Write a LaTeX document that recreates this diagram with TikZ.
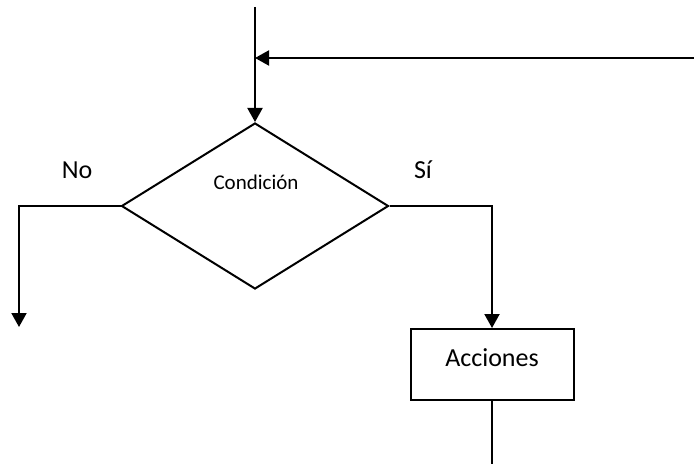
\documentclass[tikz,border=0pt]{standalone}
\usepackage{fontspec}
\setmainfont{Carlito}
\usetikzlibrary{arrows.meta,positioning,shapes.geometric}

\begin{document}
\begin{tikzpicture}[
            x=0.5pt, y=-0.5pt,
            line width=1pt,
            decision/.style={draw, diamond, inner sep=0pt, minimum width=133.5pt, minimum height=83pt},
            action/.style={draw, rectangle, minimum width=81.5pt, minimum height=35.5pt, text depth=6.5pt, font=\fontsize{13}{15}\selectfont},
            lbl/.style={font=\fontsize{13}{15}\selectfont, inner sep=0pt, anchor=base},
            arrow/.style={-{Triangle[length=7pt,width=7.5pt]}}
        ]
        \useasboundingbox (0,0) rectangle (694,464);

        \coordinate (start) at (255,7);
        \coordinate (back) at (696,58);
        \coordinate (join) at (255,58);

        \node[decision] (cond) at (255,206) {};
        \node[lbl, font=\fontsize{10.5}{12}\selectfont] (condtxt) at (256,190) {Condición};

        \node[action] (acc) at (492,364.5) {Acciones};

        \coordinate (noend) at (19,327);
        \coordinate (accout) at (492,466);

        \node[lbl] (no) at (77,178.5) {No};
        \node[lbl] (si) at (423,178.5) {Sí};

        % entrada y retorno del bucle
        \draw[arrow] (start) -- (cond.north);
        \draw[arrow] (back) -- (join);

        % ramas
        \draw[arrow] (cond.west) -| (noend);
        \draw[arrow] (cond.east) -| (acc.north);
        \draw (acc.south) -- (accout);

    \end{tikzpicture}
\end{document}
